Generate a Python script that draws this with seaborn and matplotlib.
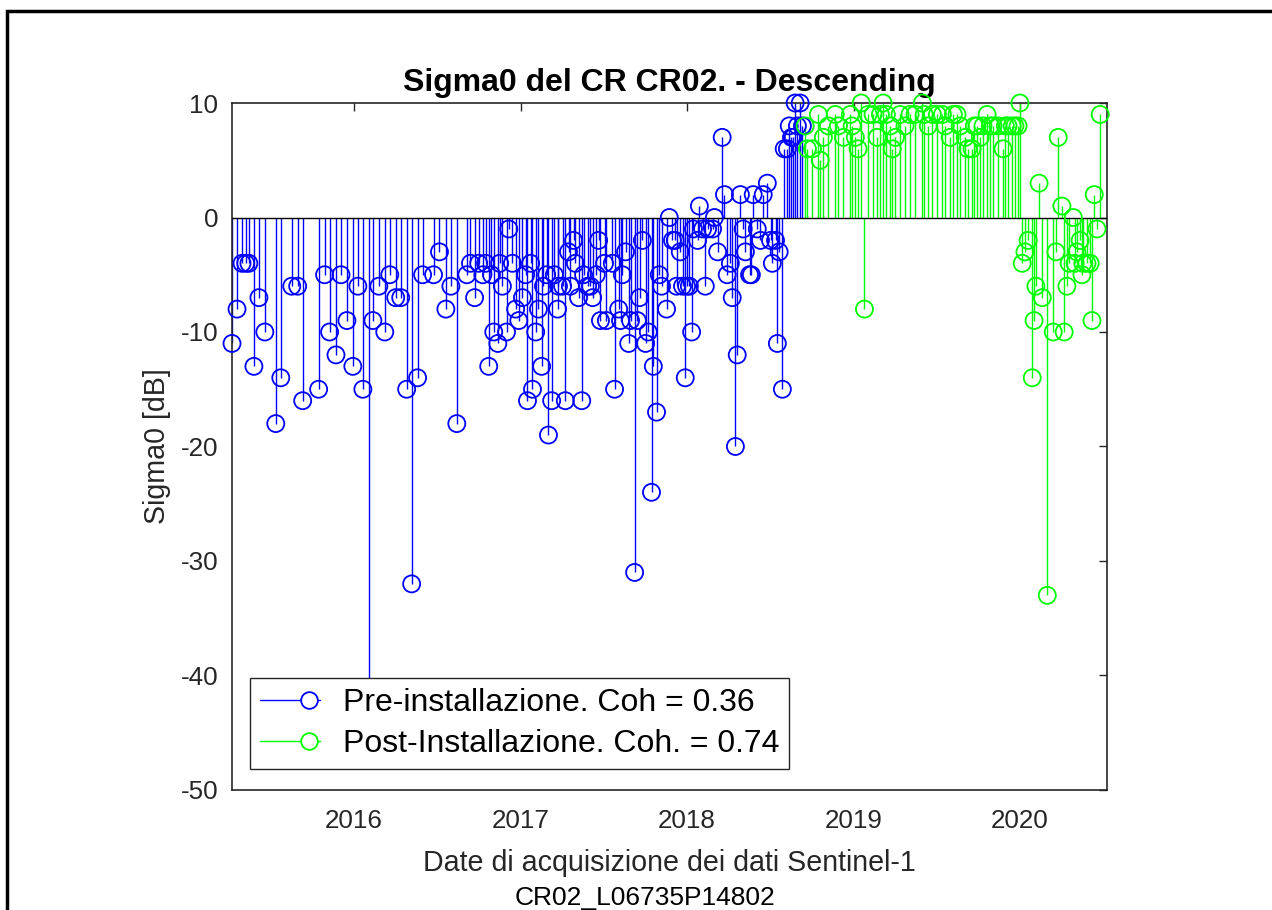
import matplotlib
matplotlib.use("Agg")
import pandas as pd
import matplotlib.pyplot as plt
import matplotlib.dates as mdates
import seaborn as sns
from matplotlib.lines import Line2D
from matplotlib.legend_handler import HandlerBase
from matplotlib.patches import Rectangle

# Dati
pre_dates = [
    "2015-04-09", "2015-04-20", "2015-05-01", "2015-05-09", "2015-05-16", "2015-05-27",
    "2015-06-07", "2015-06-20", "2015-07-14", "2015-07-25", "2015-08-18", "2015-08-31",
    "2015-09-11", "2015-10-16", "2015-10-29", "2015-11-09", "2015-11-23", "2015-12-04",
    "2015-12-17", "2015-12-30", "2016-01-10", "2016-01-21", "2016-02-03", "2016-02-12",
    "2016-02-25", "2016-03-09", "2016-03-20", "2016-04-02", "2016-04-13", "2016-04-26",
    "2016-05-07", "2016-05-20", "2016-05-31", "2016-06-24", "2016-07-07", "2016-07-21",
    "2016-08-01", "2016-08-14", "2016-09-05", "2016-09-13", "2016-09-22", "2016-10-01",
    "2016-10-10", "2016-10-16", "2016-10-23", "2016-10-29", "2016-11-03", "2016-11-12",
    "2016-11-16", "2016-11-22", "2016-12-01", "2016-12-06", "2016-12-14", "2016-12-21",
    "2016-12-28", "2017-01-05", "2017-01-12", "2017-01-16", "2017-01-23", "2017-01-27",
    "2017-02-03", "2017-02-09", "2017-02-16", "2017-02-20", "2017-02-27", "2017-03-03",
    "2017-03-10", "2017-03-16", "2017-03-23", "2017-03-25", "2017-04-03", "2017-04-09",
    "2017-04-16", "2017-04-20", "2017-04-27", "2017-05-01", "2017-05-08", "2017-05-15",
    "2017-05-19", "2017-05-28", "2017-06-03", "2017-06-08", "2017-06-16", "2017-06-21",
    "2017-06-25", "2017-07-04", "2017-07-08", "2017-07-21", "2017-07-26", "2017-08-04",
    "2017-08-08", "2017-08-12", "2017-08-19", "2017-08-26", "2017-08-30", "2017-09-08",
    "2017-09-14", "2017-09-19", "2017-09-25", "2017-10-02", "2017-10-08", "2017-10-15",
    "2017-10-19", "2017-10-26", "2017-11-01", "2017-11-06", "2017-11-17", "2017-11-23",
    "2017-11-30", "2017-12-06", "2017-12-09", "2017-12-17", "2017-12-22", "2017-12-28",
    "2017-12-31", "2018-01-06", "2018-01-11", "2018-01-15", "2018-01-24", "2018-01-28",
    "2018-02-04", "2018-02-10", "2018-02-15", "2018-02-26", "2018-03-02", "2018-03-09",
    "2018-03-19", "2018-03-24", "2018-03-30", "2018-04-06", "2018-04-10", "2018-04-17",
    "2018-04-21", "2018-04-28", "2018-05-04", "2018-05-09", "2018-05-18", "2018-05-22",
    "2018-05-26", "2018-06-04", "2018-06-11", "2018-06-17", "2018-06-26", "2018-07-03",
    "2018-07-07", "2018-07-14", "2018-07-18", "2018-07-22", "2018-07-29", "2018-08-02",
    "2018-08-09", "2018-08-13", "2018-08-18", "2018-08-22", "2018-08-26", "2018-08-31",
    "2018-09-06", "2018-09-11",
]
pre_sigma0 = [
    -11, -8, -4, -4, -4, -13,
    -7, -10, -18, -14, -6, -6,
    -16, -15, -5, -10, -12, -5,
    -9, -13, -6, -15, -45, -9,
    -6, -10, -5, -7, -7, -15,
    -32, -14, -5, -5, -3, -8,
    -6, -18, -5, -4, -7, -4,
    -5, -4, -13, -5, -10, -11,
    -4, -6, -10, -1, -4, -8,
    -9, -7, -5, -16, -4, -15,
    -10, -8, -13, -6, -5, -19,
    -16, -5, -8, -6, -6, -16,
    -3, -6, -2, -4, -7, -16,
    -5, -6, -6, -7, -5, -2,
    -9, -4, -9, -4, -15, -8,
    -9, -5, -3, -11, -9, -31,
    -9, -7, -2, -11, -10, -24,
    -13, -17, -5, -6, -8, 0,
    -2, -2, -6, -3, -6, -14,
    -6, -6, -10, -1, -2, 1,
    -1, -6, -1, -1, 0, -3,
    7, 2, -5, -4, -7, -20,
    -12, 2, -1, -3, -5, -5,
    2, -1, -2, 2, 3, -2,
    -4, -2, -11, -3, -15, 6,
    6, 8, 7, 7, 10, 8,
    10, 8,
]

post_dates = [
    "2018-09-17", "2018-09-22", "2018-10-03", "2018-10-16", "2018-10-20", "2018-10-27",
    "2018-11-07", "2018-11-22", "2018-11-29", "2018-12-10", "2018-12-25", "2018-12-29",
    "2019-01-05", "2019-01-11", "2019-01-18", "2019-01-25", "2019-02-02", "2019-02-13",
    "2019-02-22", "2019-03-01", "2019-03-07", "2019-03-14", "2019-03-23", "2019-03-27",
    "2019-04-03", "2019-04-13", "2019-04-24", "2019-05-05", "2019-05-16", "2019-06-01",
    "2019-06-05", "2019-06-14", "2019-06-23", "2019-07-04", "2019-07-15", "2019-07-21",
    "2019-08-01", "2019-08-08", "2019-08-16", "2019-08-23", "2019-09-03", "2019-09-09",
    "2019-09-18", "2019-09-23", "2019-09-29", "2019-10-06", "2019-10-12", "2019-10-21",
    "2019-10-28", "2019-11-03", "2019-11-14", "2019-11-25", "2019-11-30", "2019-12-06",
    "2019-12-15", "2019-12-21", "2019-12-28", "2020-01-01", "2020-01-06", "2020-01-12",
    "2020-01-19", "2020-01-28", "2020-02-01", "2020-02-05", "2020-02-12", "2020-02-19",
    "2020-03-01", "2020-03-14", "2020-03-20", "2020-03-25", "2020-04-02", "2020-04-07",
    "2020-04-13", "2020-04-18", "2020-04-27", "2020-05-01", "2020-05-05", "2020-05-12",
    "2020-05-16", "2020-05-18", "2020-05-27", "2020-06-03", "2020-06-07", "2020-06-12",
    "2020-06-18", "2020-06-25",
]
post_sigma0 = [
    8, 6, 6, 9, 5, 7,
    8, 9, 8, 7, 9, 8,
    7, 6, 10, -8, 9, 9,
    7, 9, 10, 9, 8, 6,
    7, 9, 8, 9, 9, 10,
    9, 8, 9, 9, 9, 8,
    7, 9, 9, 8, 7, 6,
    6, 8, 8, 7, 8, 9,
    8, 8, 8, 6, 8, 8,
    8, 8, 8, 10, -4, -3,
    -2, -14, -9, -6, 3, -7,
    -33, -10, -3, 7, 1, -10,
    -6, -4, 0, -4, -3, -2,
    -5, -4, -4, -4, -9, 2,
    -1, 9,
]

pre_label = "Pre-installazione. Coh = 0.36"
post_label = "Post-Installazione. Coh. = 0.74"
x_start, x_end = "2015-04-09", "2020-07-10"

pre = pd.DataFrame({"data": pd.to_datetime(pre_dates), "sigma0": pre_sigma0})
post = pd.DataFrame({"data": pd.to_datetime(post_dates), "sigma0": post_sigma0})

sns.set_style("white")
plt.rcParams["font.family"] = ["Liberation Sans", "DejaVu Sans"]
plt.rcParams["axes.unicode_minus"] = False

fig = plt.figure(figsize=(12.72, 9.10), dpi=100)
ax = fig.add_axes([0.1824, 0.1319, 0.6879, 0.7549])

# stems + baseline
ax.vlines(pre["data"], 0, pre["sigma0"], color="blue", lw=1.0, zorder=2)
ax.vlines(post["data"], 0, post["sigma0"], color="lime", lw=1.0, zorder=2)
ax.axhline(0, color="black", lw=1.0, zorder=3)

sns.scatterplot(data=pre, x="data", y="sigma0", ax=ax, marker="o", s=150,
                facecolor="none", edgecolor="blue", linewidth=1.3, clip_on=False, zorder=4)
sns.scatterplot(data=post, x="data", y="sigma0", ax=ax, marker="o", s=150,
                facecolor="none", edgecolor="lime", linewidth=1.3, clip_on=False, zorder=4)

ax.set_xlim(pd.Timestamp(x_start), pd.Timestamp(x_end))
ax.set_ylim(-50, 10)
ax.set_yticks(range(-50, 11, 10))
ax.xaxis.set_major_locator(mdates.YearLocator())
ax.xaxis.set_major_formatter(mdates.DateFormatter("%Y"))

for s in ax.spines.values():
    s.set_color("#262626")
    s.set_linewidth(1.2)
ax.tick_params(direction="in", length=6, width=1.0, color="#262626",
               top=True, right=True, labelsize=18.7, labelcolor="#262626")
ax.tick_params(axis="y", pad=10)
ax.tick_params(axis="x", pad=14)

ax.set_xlabel("Date di acquisizione dei dati Sentinel-1", fontsize=20.6, color="#262626", labelpad=11)
ax.set_ylabel("Sigma0 [dB]", fontsize=20.6, color="#262626", labelpad=7)
ax.set_title("Sigma0 del CR CR02. - Descending", fontsize=23, fontweight="bold",
             color="black", pad=9)


class StemHandler(HandlerBase):
    def create_artists(self, legend, orig_handle, xdescent, ydescent,
                       width, height, fontsize, trans):
        y = height / 2 - ydescent
        col = orig_handle.get_color()
        line = Line2D([-xdescent, width - xdescent], [y, y], color=col, lw=1.0, transform=trans)
        dot = Line2D([width - xdescent - 8], [y], marker="o", ms=12, mfc="white",
                     mec=col, mew=1.3, transform=trans)
        return [line, dot]


handles = [Line2D([], [], color="blue"), Line2D([], [], color="lime")]
leg = ax.legend(handles, [pre_label, post_label], handler_map={Line2D: StemHandler()},
                loc="lower left", bbox_to_anchor=(0.0206, 0.0306), borderaxespad=0,
                fontsize=23, handlelength=1.9, handletextpad=0.7, borderpad=0.3,
                labelspacing=0.36, fancybox=False, framealpha=1)
leg.get_frame().set_edgecolor("#262626")
leg.get_frame().set_linewidth(1.0)
for t in leg.get_texts():
    t.set_color("black")
leg.set_zorder(10)

fig.text(0.507, 0.0132, "CR02_L06735P14802", ha="center", va="center", fontsize=19, color="black")

# cornice esterna
fig.patches.append(Rectangle((7 / 1272, -0.1), 2, 1 - 11 / 910 + 0.1, transform=fig.transFigure,
                             fill=False, ec="black", lw=2.5))

fig.savefig("out.png", dpi=100)
